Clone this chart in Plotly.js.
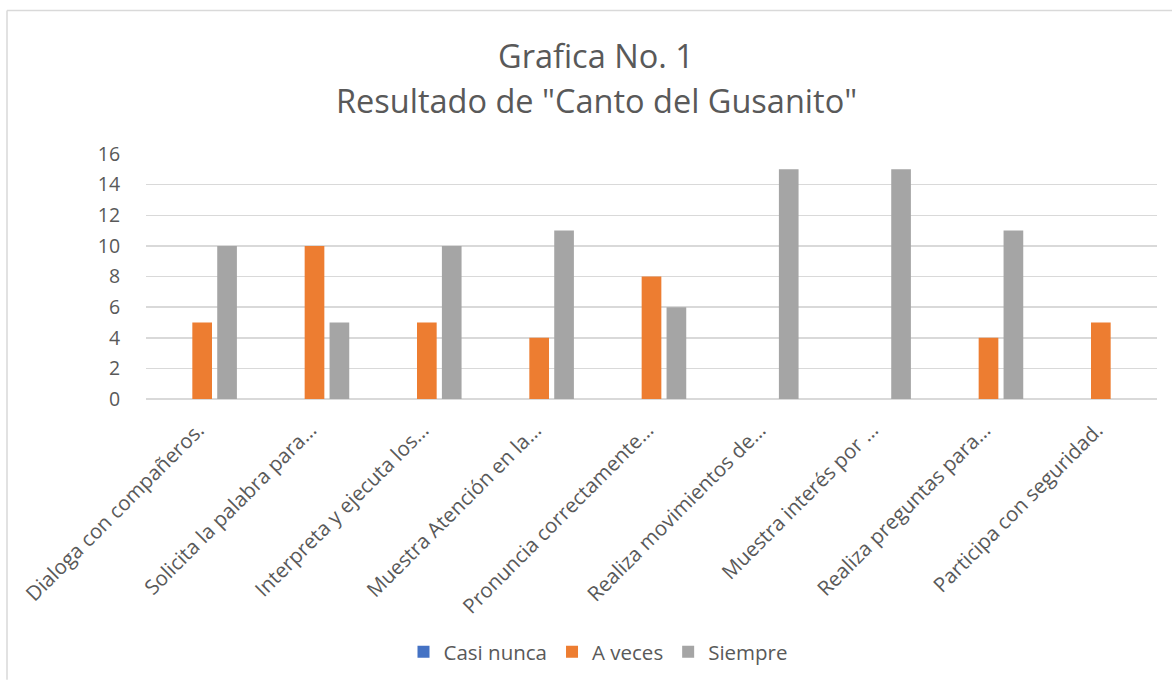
<!DOCTYPE html>
<html>
<head>
<meta charset="utf-8">
<script src="https://cdn.plot.ly/plotly-3.0.1.min.js"></script>
<style>html,body{margin:0;padding:0;background:#fff;}#chart{width:1172px;height:682px;}</style>
</head>
<body>
<div id="chart"></div>
<script>
const categories = [
  "Dialoga con compañeros.",
  "Solicita la palabra para…",
  "Interpreta y ejecuta los…",
  "Muestra Atención en la…",
  "Pronuncia correctamente…",
  "Realiza movimientos de…",
  "Muestra interés por …",
  "Realiza preguntas para…",
  "Participa con seguridad."
];
const casiNunca = [0, 0, 0, 0, 0, 0, 0, 0, 0];
const aVeces    = [5, 10, 5, 4, 8, 0, 0, 4, 5];
const siempre   = [10, 5, 10, 11, 6, 15, 15, 11, 0];
const yTicks = [0, 2, 4, 6, 8, 10, 12, 14, 16];
const titleLines = ["Grafica No. 1", "Resultado de \"Canto del Gusanito\""];

const FONT = "'Open Sans', Lato, sans-serif";
const TXT = "#595959";

const traces = [
  {type: "bar", name: "Casi nunca", x: categories, y: casiNunca, marker: {color: "#4472C4"}},
  {type: "bar", name: "A veces", x: categories, y: aVeces, marker: {color: "#ED7D31"}},
  {type: "bar", name: "Siempre", x: categories, y: siempre, marker: {color: "#A5A5A5"}}
];

const L = 146, R = 1157, T = 154, B = 400;
const px2x = p => (p - L) / (R - L);
const py2y = p => (B - p) / (B - T);

const layout = {
  width: 1172, height: 682,
  margin: {l: L, r: 1172 - R, t: T, b: 682 - B, pad: 0},
  paper_bgcolor: "#fff", plot_bgcolor: "#fff",
  font: {family: FONT, color: TXT, size: 19},
  barmode: "group",
  bargap: 0.335,
  bargroupgap: 0.21,
  showlegend: true,
  legend: {orientation: "h", x: px2x(598), xanchor: "center", y: py2y(652), yanchor: "middle",
           font: {size: 20.5, color: TXT}, itemwidth: 30, tracegroupgap: 0},
  xaxis: {type: "category", tickangle: -45, ticks: "outside", ticklen: 10, tickcolor: "rgba(0,0,0,0)",
          tickfont: {size: 20.5, color: TXT}, showgrid: false, showline: false, fixedrange: true,
          ticklabelshift: -4},
  yaxis: {range: [0, 16], tickvals: yTicks, ticktext: yTicks.map(String), showgrid: true,
          gridcolor: "#d9d9d9", gridwidth: 1.5, zeroline: true, zerolinecolor: "#d9d9d9", zerolinewidth: 1.5,
          ticks: "outside", ticklen: 21, tickcolor: "rgba(0,0,0,0)", tickfont: {size: 19.5, color: TXT},
          showline: false, fixedrange: true},
  annotations: [
    {text: titleLines[0], xref: "paper", yref: "paper", x: px2x(596), y: py2y(55), xanchor: "center", yanchor: "middle",
     showarrow: false, font: {size: 32.5, color: TXT, family: FONT}},
    {text: titleLines[1], xref: "paper", yref: "paper", x: px2x(596), y: py2y(100), xanchor: "center", yanchor: "middle",
     showarrow: false, font: {size: 32.5, color: TXT, family: FONT}}
  ],
  shapes: [
    {type: "line", xref: "paper", yref: "paper", x0: px2x(7), x1: px2x(1172), y0: py2y(10), y1: py2y(10),
     line: {color: "#d9d9d9", width: 1.5}},
    {type: "line", xref: "paper", yref: "paper", x0: px2x(7), x1: px2x(7), y0: py2y(10), y1: py2y(682),
     line: {color: "#d9d9d9", width: 1.5}}
  ]
};

Plotly.newPlot("chart", traces, layout, {displayModeBar: false, staticPlot: true});
</script>
</body>
</html>
